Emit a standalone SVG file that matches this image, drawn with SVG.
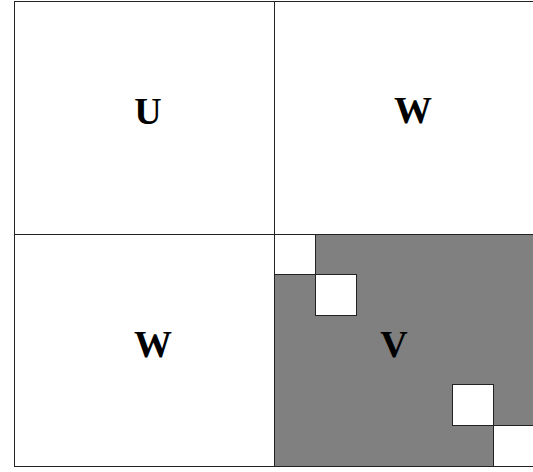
<svg xmlns="http://www.w3.org/2000/svg" width="533" height="472" viewBox="0 0 533 472">
<style>
.lbl{font-family:"Liberation Serif","Times New Roman",serif;font-weight:bold;font-size:38px;text-anchor:middle;fill:#000}
.cell{fill:#fff;stroke:#222;stroke-width:1}
.gray{fill:#808080;stroke:#222;stroke-width:1}
</style>
<rect width="533" height="472" fill="#fff"/>
<g id="U">
<rect class="cell" x="14.5" y="1.5" width="260" height="233" stroke="#777"/>
<text class="lbl" x="148" y="124">U</text>
</g>
<g id="W-top">
<rect class="cell" x="274.5" y="1.5" width="270" height="233" stroke="#777"/>
<text class="lbl" x="413" y="123">W</text>
</g>
<g id="W-bottom">
<rect class="cell" x="14.5" y="234.5" width="260" height="232"/>
<text class="lbl" x="153" y="357">W</text>
</g>
<g id="V">
<path class="gray" d="M315.5 234.5 H545 V425.5 H493.5 V466.5 H274.5 V274.5 H315.5 Z"/>
<rect class="cell" x="315.5" y="274.5" width="41" height="41"/>
<rect class="cell" x="452.5" y="384.5" width="41" height="41"/>
<line x1="274.5" y1="234" x2="274.5" y2="467" stroke="#222"/>
<line x1="493" y1="466.5" x2="533" y2="466.5" stroke="#222"/>
<text class="lbl" x="394" y="357">V</text>
</g>
<g id="connectors"></g>
</svg>
